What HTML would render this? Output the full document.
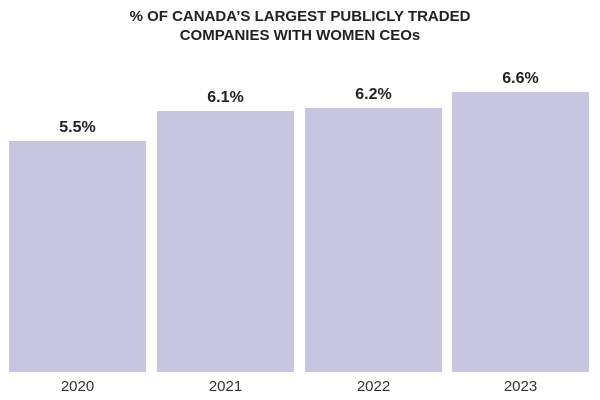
<!DOCTYPE html>
<html><head><style>
body{margin:0;width:600px;height:400px;background:#fff;font-family:"Liberation Sans",sans-serif;position:relative;overflow:hidden}
.t{position:absolute;left:0;width:600px;top:7px;text-align:center;font-weight:bold;font-size:15px;line-height:19px;color:#222}
.b{position:absolute;background:#c8c5e1;bottom:28px;width:137px}
.v{position:absolute;width:137px;text-align:center;font-size:16px;font-weight:bold;color:#222}
.x{position:absolute;width:137px;text-align:center;font-size:15px;color:#333;top:378px}
</style></head><body>
<div class="t">% OF CANADA’S LARGEST PUBLICLY TRADED<br>COMPANIES WITH WOMEN CEOs</div>
<div class="b" style="left:9px;top:141px"></div><div class="v" style="left:9px;top:119px">5.5%</div><div class="x" style="left:9px">2020</div>
<div class="b" style="left:157px;top:111px"></div><div class="v" style="left:157px;top:89px">6.1%</div><div class="x" style="left:157px">2021</div>
<div class="b" style="left:305px;top:108px"></div><div class="v" style="left:305px;top:86px">6.2%</div><div class="x" style="left:305px">2022</div>
<div class="b" style="left:452px;top:92px"></div><div class="v" style="left:452px;top:70px">6.6%</div><div class="x" style="left:452px">2023</div>
</body></html>
